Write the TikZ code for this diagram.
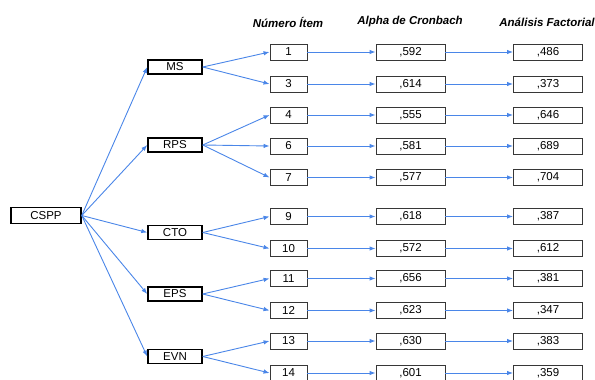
\documentclass[tikz,border=0pt]{standalone}
\usepackage{fontspec}
\setmainfont{Liberation Sans}
\usetikzlibrary{arrows.meta}
\definecolor{edgeblue}{RGB}{74,134,232}
\definecolor{boxgray}{RGB}{55,55,55}

\begin{document}
\begin{tikzpicture}[x=1pt, y=-1pt, ->, >={Latex[length=6pt, width=4.5pt]}, line width=0.9pt, edgeblue,
	every node/.style={inner sep=0pt, text=black, font=\fontsize{11.5}{13}\selectfont},
	factor/.style={draw=black, line width=1.5pt, minimum width=54pt, minimum height=14pt},
	item/.style={draw=boxgray, line width=0.9pt, minimum width=37pt, minimum height=16pt},
	value/.style={draw=boxgray, line width=0.9pt, minimum width=69pt, minimum height=16pt},
	header/.style={font=\fontsize{11.5}{13}\selectfont\bfseries\itshape}]
		\useasboundingbox (0, 0) rectangle (595, 380);
		
		\node[header] (h1) at (288, 22) {Número Ítem};
		\node[header] (h2) at (410, 22) {Alpha de Cronbach};
		\node[header] (h3) at (547, 22) {Análisis Factorial};
		
		\node[factor, minimum width=70pt, minimum height=16pt] (cspp) at (46, 215.5) {CSPP};
		\node[factor] (ms) at (175, 67) {MS};
		\node[factor] (rps) at (175, 145) {RPS};
		\node[factor] (cto) at (175, 232.5) {CTO};
		\node[factor] (eps) at (175, 294) {EPS};
		\node[factor] (evn) at (175, 356.5) {EVN};
		
		\node[item] (i1) at (288.5, 52) {1};
		\node[item] (i3) at (288.5, 84) {3};
		\node[item] (i4) at (288.5, 115) {4};
		\node[item] (i6) at (288.5, 146) {6};
		\node[item] (i7) at (288.5, 177.5) {7};
		\node[item] (i9) at (288.5, 216.5) {9};
		\node[item] (i10) at (288.5, 248.5) {10};
		\node[item] (i11) at (288.5, 278.5) {11};
		\node[item] (i12) at (288.5, 310.5) {12};
		\node[item] (i13) at (288.5, 341) {13};
		\node[item] (i14) at (288.5, 373) {14};
		
		\node[value] (a1) at (410.5, 52) {,592};
		\node[value] (a3) at (410.5, 84) {,614};
		\node[value] (a4) at (410.5, 115) {,555};
		\node[value] (a6) at (410.5, 146) {,581};
		\node[value] (a7) at (410.5, 177.5) {,577};
		\node[value] (a9) at (410.5, 216.5) {,618};
		\node[value] (a10) at (410.5, 248.5) {,572};
		\node[value] (a11) at (410.5, 278.5) {,656};
		\node[value] (a12) at (410.5, 310.5) {,623};
		\node[value] (a13) at (410.5, 341) {,630};
		\node[value] (a14) at (410.5, 373) {,601};
		
		\node[value] (f1) at (548, 52) {,486};
		\node[value] (f3) at (548, 84) {,373};
		\node[value] (f4) at (548, 115) {,646};
		\node[value] (f6) at (548, 146) {,689};
		\node[value] (f7) at (548, 177.5) {,704};
		\node[value] (f9) at (548, 216.5) {,387};
		\node[value] (f10) at (548, 248.5) {,612};
		\node[value] (f11) at (548, 278.5) {,381};
		\node[value] (f12) at (548, 310.5) {,347};
		\node[value] (f13) at (548, 341) {,383};
		\node[value] (f14) at (548, 373) {,359};
		
		\path (cspp.east) edge (ms.west)
			(cspp.east) edge (rps.west)
			(cspp.east) edge (cto.west)
			(cspp.east) edge (eps.west)
			(cspp.east) edge (evn.west)
			(ms.east) edge (i1.west)
			(ms.east) edge (i3.west)
			(rps.east) edge (i4.west)
			(rps.east) edge (i6.west)
			(rps.east) edge (i7.west)
			(cto.east) edge (i9.west)
			(cto.east) edge (i10.west)
			(eps.east) edge (i11.west)
			(eps.east) edge (i12.west)
			(evn.east) edge (i13.west)
			(evn.east) edge (i14.west);
		
		\path (i1) edge (a1) (a1) edge (f1)
			(i3) edge (a3) (a3) edge (f3)
			(i4) edge (a4) (a4) edge (f4)
			(i6) edge (a6) (a6) edge (f6)
			(i7) edge (a7) (a7) edge (f7)
			(i9) edge (a9) (a9) edge (f9)
			(i10) edge (a10) (a10) edge (f10)
			(i11) edge (a11) (a11) edge (f11)
			(i12) edge (a12) (a12) edge (f12)
			(i13) edge (a13) (a13) edge (f13)
			(i14) edge (a14) (a14) edge (f14);
	\end{tikzpicture}
\end{document}
